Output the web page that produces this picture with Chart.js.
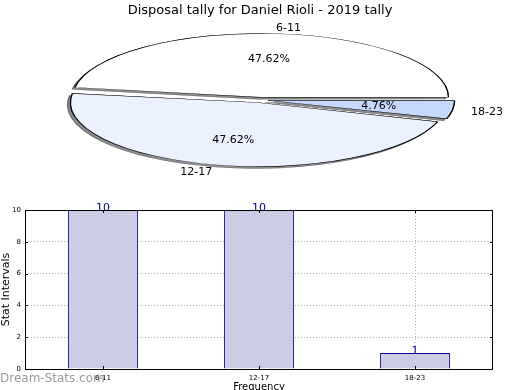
<!DOCTYPE html>
<html>
<head>
<meta charset="utf-8">
<script src="https://cdn.jsdelivr.net/npm/chart.js@4.4.0/dist/chart.umd.min.js"></script>
<style>
  html, body { margin: 0; padding: 0; background: #fff; }
  #wrap { position: relative; width: 520px; height: 390px; overflow: hidden; }
  canvas { position: absolute; left: 0; top: 0; }
  #mark { position: absolute; left: 0; top: 371px; font: 12px "DejaVu Sans", sans-serif; color: rgba(110,110,110,0.7); }
</style>
</head>
<body>
<div id="wrap">
  <canvas id="bars" width="520" height="390"></canvas>
  <canvas id="pie" width="520" height="390"></canvas>
  <div id="mark">Dream-Stats.com</div>
</div>
<script>
const categories = ['6-11', '12-17', '18-23'];
const counts = [10, 10, 1];
const yTicks = [0, 2, 4, 6, 8, 10];
const pieColors = ['#ffffff', '#ebf1fe', '#c6d9fd'];

const FONT = '"DejaVu Sans", sans-serif';
const SQUASH = 0.34;
const PIE_CY = 100;
const EXPLODE = 8;

// matplotlib draws counter-clockwise from 3 o'clock, Chart.js clockwise -> reverse order
const pieLabels = categories.slice().reverse();
const pieData = counts.slice().reverse();
const pieFill = pieColors.slice().reverse();
const total = counts.reduce((a, b) => a + b, 0);

const squashPlugin = {
    id: 'squash',
    beforeDatasetsDraw(chart) {
        const arcs = chart.getDatasetMeta(0).data;
        const ctx = chart.ctx;
        ctx.save();
        ctx.translate(arcs[0].x, PIE_CY);
        ctx.scale(1, SQUASH);
        ctx.translate(-arcs[0].x, -arcs[0].y);
        // shadow pass, then the normal draw covers everything but the shadow rim
        ctx.save();
        ctx.shadowColor = 'rgba(0,0,0,0.45)';
        ctx.shadowOffsetX = -3;
        ctx.shadowOffsetY = 2;
        arcs.forEach(a => a.draw(ctx));
        ctx.restore();
    },
    afterDatasetsDraw(chart) {
        const ctx = chart.ctx;
        ctx.restore();
        ctx.save();
        ctx.fillStyle = '#000';
        ctx.font = '11px ' + FONT;
        ctx.textBaseline = 'middle';
        chart.getDatasetMeta(0).data.forEach((arc, i) => {
            const mid = (arc.startAngle + arc.endAngle) / 2;
            const off = arc.options.offset / 4;
            const circ = arc.endAngle - arc.startAngle;
            const r = arc.outerRadius + off * (1 - Math.sin(Math.min(Math.PI, circ)));
            const cos = Math.cos(mid), sin = Math.sin(mid);
            const ox = arc.x + cos * off;
            const oy = sin * off;
            ctx.textAlign = 'center';
            const pct = (pieData[i] / total * 100).toFixed(2) + '%';
            ctx.fillText(pct, ox + cos * r * 0.6, PIE_CY + (oy + sin * r * 0.6) * SQUASH);
            ctx.textAlign = cos >= 0 ? 'left' : 'right';
            ctx.fillText(pieLabels[i], ox + cos * r * 1.1, PIE_CY + 1 + (oy + sin * r * 1.1) * SQUASH);
        });
        ctx.restore();
    }
};

new Chart(document.getElementById('pie'), {
    type: 'pie',
    data: {
        labels: pieLabels,
        datasets: [{
            data: pieData,
            backgroundColor: pieFill,
            borderColor: '#000',
            borderWidth: 1.3,
            offset: EXPLODE * 4,
            clip: false
        }]
    },
    options: {
        responsive: false,
        animation: false,
        rotation: 90,
        radius: 181,
        events: [],
        layout: { padding: 0 },
        plugins: {
            legend: { display: false },
            tooltip: { enabled: false },
            title: {
                display: true,
                text: 'Disposal tally for Daniel Rioli - 2019 tally',
                color: '#000',
                font: { family: FONT, size: 13, weight: 'normal' },
                padding: { top: 3, bottom: 0 }
            }
        }
    },
    plugins: [squashPlugin]
});

const barLabels = {
    id: 'barLabels',
    afterDatasetsDraw(chart) {
        const ctx = chart.ctx;
        ctx.save();
        ctx.fillStyle = '#00008b';
        ctx.font = '11px ' + FONT;
        ctx.textAlign = 'center';
        ctx.textBaseline = 'bottom';
        chart.getDatasetMeta(0).data.forEach((bar, i) => {
            ctx.fillText(String(counts[i]), bar.x, bar.y + 4);
        });
        ctx.restore();
    }
};

const frame = {
    id: 'frame',
    afterDraw(chart) {
        const a = chart.chartArea, ctx = chart.ctx;
        ctx.save();
        ctx.strokeStyle = '#000';
        ctx.lineWidth = 1;
        ctx.strokeRect(a.left + 0.5, a.top + 0.5, a.right - a.left - 1, a.bottom - a.top);
        // inward tick marks
        ctx.beginPath();
        chart.scales.y.ticks.forEach((t, i) => {
            const y = Math.round(chart.scales.y.getPixelForTick(i)) + 0.5;
            ctx.moveTo(a.left, y); ctx.lineTo(a.left + 3, y);
            ctx.moveTo(a.right, y); ctx.lineTo(a.right - 3, y);
        });
        chart.scales.x.ticks.forEach((t, i) => {
            const x = Math.round(chart.scales.x.getPixelForTick(i)) + 0.5;
            ctx.moveTo(x, a.bottom); ctx.lineTo(x, a.bottom - 3);
            ctx.moveTo(x, a.top); ctx.lineTo(x, a.top + 3);
        });
        ctx.stroke();
        ctx.restore();
    }
};

new Chart(document.getElementById('bars'), {
    type: 'bar',
    data: {
        labels: categories,
        datasets: [{
            data: counts,
            backgroundColor: '#cccce5',
            borderColor: '#00008b',
            borderWidth: { top: 1, left: 1, right: 1, bottom: 0 },
            borderSkipped: false,
            barPercentage: 0.45,
            categoryPercentage: 1
        }]
    },
    options: {
        responsive: false,
        animation: false,
        events: [],
        layout: { padding: { left: 0, top: 210, right: 27, bottom: 0 } },
        plugins: { legend: { display: false }, tooltip: { enabled: false } },
        scales: {
            x: {
                z: 1,
                offset: true,
                grid: { color: '#b0b0b0', lineWidth: 1, tickLength: 0, offset: false },
                border: { display: false, dash: [1, 2] },
                ticks: { color: '#000', font: { family: FONT, size: 7 }, padding: 5 },
                title: { display: true, text: 'Frequency', color: '#000', font: { family: FONT, size: 10 }, padding: { top: 0, bottom: -3 } },
                afterFit(s) { s.height = 21; }
            },
            y: {
                z: 1,
                min: 0,
                max: 10,
                afterBuildTicks(s) { s.ticks = yTicks.map(v => ({ value: v })); },
                grid: { color: '#b0b0b0', lineWidth: 1, tickLength: 0 },
                border: { display: false, dash: [1, 2] },
                ticks: { color: '#000', font: { family: FONT, size: 7 }, padding: 4 },
                title: { display: true, text: 'Stat Intervals', color: '#000', font: { family: FONT, size: 11 }, padding: 0 },
                afterFit(s) { s.width = 25; }
            }
        }
    },
    plugins: [barLabels, frame]
});
</script>
</body>
</html>
